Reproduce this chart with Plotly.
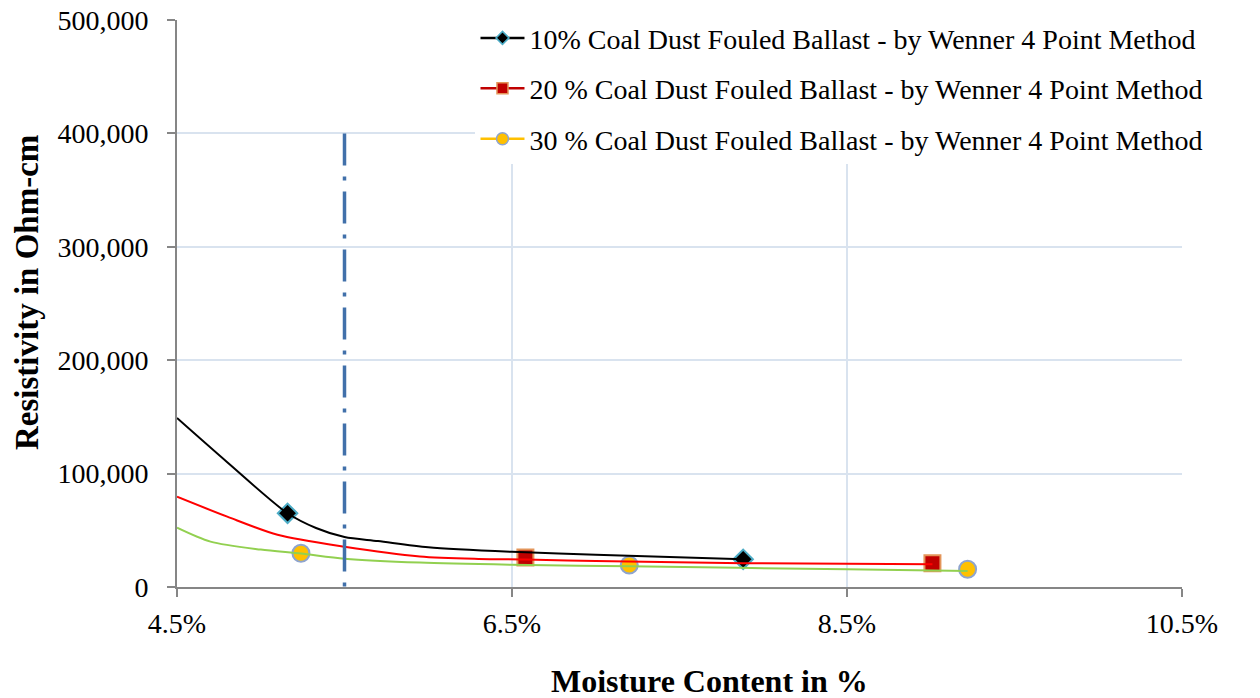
import plotly.graph_objects as go

# Measured points (moisture content in %, resistivity in Ohm-cm)
x_10 = [5.16, 7.88]
y_10 = [65000, 24400]
x_20 = [6.58, 9.01]
y_20 = [26000, 20900]
x_30 = [5.24, 7.20, 9.22]
y_30 = [29700, 19400, 15600]

# Fitted trend curves for each mix
trend_x_10 = [4.5, 4.8, 5.16, 5.33, 5.5, 5.7, 6.0, 6.5, 7.0, 7.88]
trend_y_10 = [149000, 110000, 65000, 52000, 44000, 40500, 35000, 31000, 28500, 24400]
trend_x_20 = [4.5, 4.8, 5.1, 5.5, 5.95, 6.3, 6.58, 7.0, 7.88, 9.01]
trend_y_20 = [79600, 62000, 46000, 35500, 27000, 24800, 24200, 23000, 21000, 20000]
trend_x_30 = [4.5, 4.7, 5.0, 5.24, 5.5, 5.95, 6.5, 7.2, 8.5, 9.22]
trend_y_30 = [52300, 40000, 33000, 29500, 25000, 21500, 19600, 18200, 15600, 14100]

# Threshold moisture marker (drawn top-down)
limit_x = [5.5, 5.5]
limit_y = [400000, 0]

x_ticks = [4.5, 6.5, 8.5, 10.5]
x_tick_text = ["4.5%", "6.5%", "8.5%", "10.5%"]
y_ticks = [0, 100000, 200000, 300000, 400000, 500000]

names = [
    "10% Coal Dust Fouled Ballast - by Wenner 4 Point Method",
    "20 % Coal Dust Fouled Ballast - by Wenner 4 Point Method",
    "30 % Coal Dust Fouled Ballast - by Wenner 4 Point Method",
]

FONT = "Liberation Serif"

fig = go.Figure()

# markers
fig.add_trace(go.Scatter(x=x_10, y=y_10, mode="markers", showlegend=False,
                         marker=dict(symbol="diamond", size=15, color="black",
                                     line=dict(color="#4BACC6", width=2))))
fig.add_trace(go.Scatter(x=x_20, y=y_20, mode="markers", showlegend=False,
                         marker=dict(symbol="square", size=16, color="#C00000",
                                     line=dict(color="#E3955A", width=2))))
fig.add_trace(go.Scatter(x=x_30, y=y_30, mode="markers", showlegend=False,
                         marker=dict(symbol="circle", size=17, color="#FFC000",
                                     line=dict(color="#8EA4CF", width=2))))

# trend curves
fig.add_trace(go.Scatter(x=trend_x_10, y=trend_y_10, mode="lines", showlegend=False,
                         line=dict(color="black", width=2, shape="spline", smoothing=0.8)))
fig.add_trace(go.Scatter(x=trend_x_20, y=trend_y_20, mode="lines", showlegend=False,
                         line=dict(color="#FF0000", width=2, shape="spline", smoothing=0.8)))
fig.add_trace(go.Scatter(x=trend_x_30, y=trend_y_30, mode="lines", showlegend=False,
                         line=dict(color="#92D050", width=2, shape="spline", smoothing=0.8)))

# vertical limit line
fig.add_trace(go.Scatter(x=limit_x, y=limit_y, mode="lines", showlegend=False,
                         line=dict(color="#4170AA", width=3.5, dash="32px,11px,4px,11px")))

# legend entries
legend_styles = [
    dict(line=dict(color="black", width=2.5),
         marker=dict(symbol="diamond", size=10, color="black", line=dict(color="#4BACC6", width=1.5))),
    dict(line=dict(color="#C00000", width=2.5),
         marker=dict(symbol="square", size=11, color="#C00000", line=dict(color="#E3955A", width=1.5))),
    dict(line=dict(color="#FFC000", width=2.5),
         marker=dict(symbol="circle", size=12, color="#FFC000", line=dict(color="#8EA4CF", width=1.5))),
]
for i, (nm, st) in enumerate(zip(names, legend_styles)):
    fig.add_trace(go.Scatter(x=[None], y=[None], mode="lines+markers", name=nm,
                             legendgroup=f"g{i}", **st))

fig.update_layout(
    width=1260, height=698,
    margin=dict(l=177, r=78, t=20, b=111),
    paper_bgcolor="white", plot_bgcolor="white",
    font=dict(family=FONT, color="black", size=28),
    legend=dict(x=0.297, y=1.012, xanchor="left", yanchor="top",
                bgcolor="white", font=dict(size=28, family=FONT),
                traceorder="grouped", tracegroupgap=11, itemwidth=44),
)

# axis titles
fig.add_annotation(text="<b>Moisture Content in %</b>", xref="paper", yref="paper",
                   x=0.530, y=-0.166, xanchor="center", yanchor="middle", showarrow=False,
                   font=dict(size=32, family=FONT, color="black"))
fig.add_annotation(text="<b>Resistivity in Ohm-cm</b>", xref="paper", yref="paper",
                   x=-0.150, y=0.519, xanchor="center", yanchor="middle", showarrow=False,
                   textangle=-90, font=dict(size=33, family=FONT, color="black"))

fig.update_xaxes(
    range=[4.5, 10.5], tickvals=x_ticks, ticktext=x_tick_text,
    showgrid=True, gridcolor="#D9E3EF", gridwidth=1.5,
    showline=True, linecolor="#868686", linewidth=2,
    ticks="outside", ticklen=8, tickcolor="#868686", tickwidth=2,
    tickfont=dict(size=28, family=FONT), ticklabelstandoff=2,
    zeroline=False, automargin=False,
)
fig.update_yaxes(
    range=[0, 500000], tickvals=y_ticks, tickformat=",",
    showgrid=True, gridcolor="#D9E3EF", gridwidth=1.5,
    showline=True, linecolor="#868686", linewidth=2,
    ticks="outside", ticklen=8, tickcolor="#868686", tickwidth=2,
    tickfont=dict(size=28, family=FONT), ticklabelstandoff=13,
    zeroline=False, automargin=False,
)

fig.write_html("out.html")
